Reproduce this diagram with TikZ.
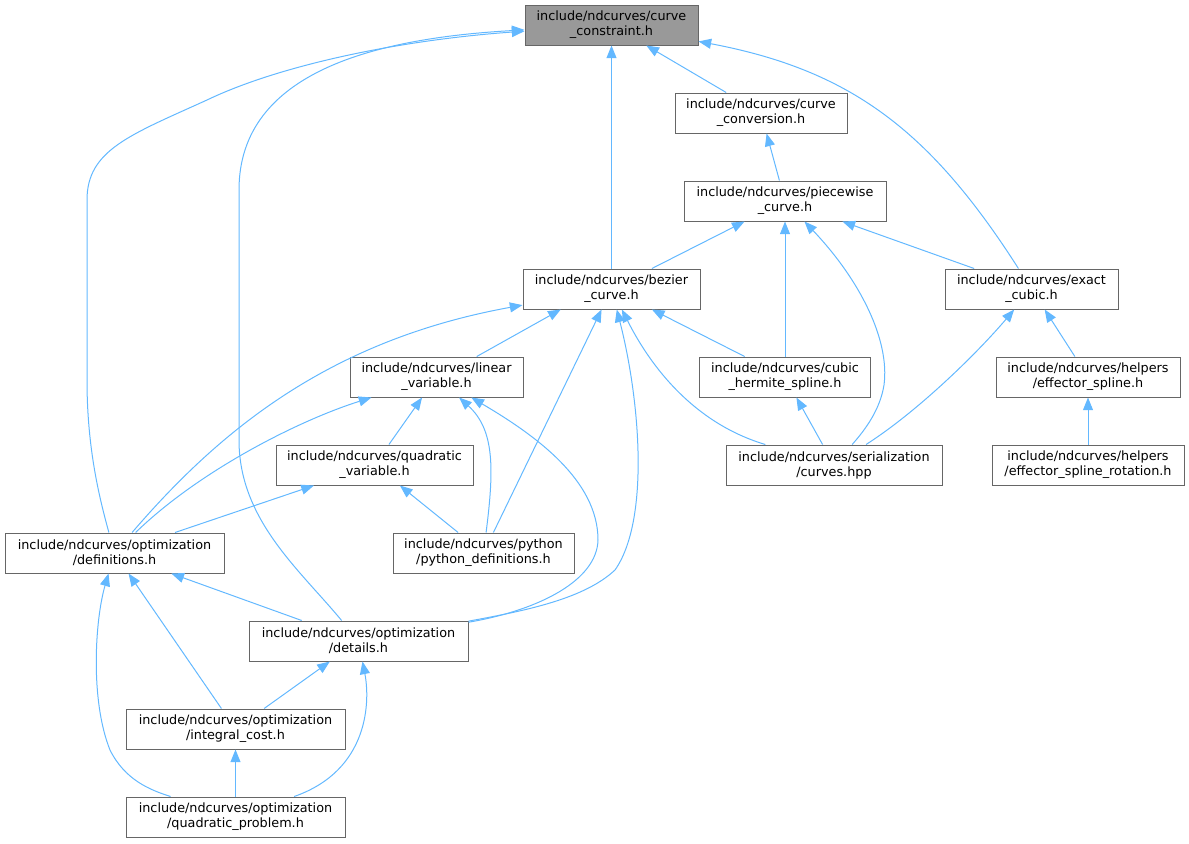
\documentclass[tikz,border=0pt]{standalone}
\usepackage{fontspec}
\setmainfont{DejaVu Sans}
\usetikzlibrary{arrows.meta}
\definecolor{edgeblue}{HTML}{63B8FF}
\definecolor{boxline}{HTML}{666666}
\definecolor{mainfill}{HTML}{999999}
\begin{document}
\begin{tikzpicture}[x=0.75pt,y=-0.75pt,
  box/.style={draw=boxline, line width=0.75pt, fill=white, rectangle, inner sep=0pt,
    minimum height=30pt, align=center, font=\fontsize{9.6}{11.25}\selectfont},
  w/.style={minimum width=#1*0.75pt},
  edge/.style={draw=edgeblue, line width=0.75pt, {Triangle[length=9.5pt,width=7.5pt]}-}]
\useasboundingbox (0,0) rectangle (1189,843);
% nodes
\node[box,fill=mainfill,w=173] (cc) at (611.5,25) {include/ndcurves/curve\\\_constraint.h};
\node[box,w=172] (conv) at (761,113) {include/ndcurves/curve\\\_conversion.h};
\node[box,w=202] (pw) at (785,201) {include/ndcurves/piecewise\\\_curve.h};
\node[box,w=177] (bez) at (611.5,289) {include/ndcurves/bezier\\\_curve.h};
\node[box,w=173] (exact) at (1031.5,289) {include/ndcurves/exact\\\_cubic.h};
\node[box,w=173] (lin) at (436.5,377) {include/ndcurves/linear\\\_variable.h};
\node[box,w=171] (herm) at (785,377) {include/ndcurves/cubic\\\_hermite\_spline.h};
\node[box,w=184] (eff) at (1088,377) {include/ndcurves/helpers\\/effector\_spline.h};
\node[box,w=197] (quad) at (374.5,465) {include/ndcurves/quadratic\\\_variable.h};
\node[box,w=216] (ser) at (834,465) {include/ndcurves/serialization\\/curves.hpp};
\node[box,w=192] (effrot) at (1088,465) {include/ndcurves/helpers\\/effector\_spline\_rotation.h};
\node[box,w=219] (defs) at (114.5,553) {include/ndcurves/optimization\\/definitions.h};
\node[box,w=181] (py) at (483.5,553) {include/ndcurves/python\\/python\_definitions.h};
\node[box,w=219] (det) at (358.5,641) {include/ndcurves/optimization\\/details.h};
\node[box,w=219] (integ) at (235.5,729) {include/ndcurves/optimization\\/integral\_cost.h};
\node[box,w=219] (qp) at (235.5,817) {include/ndcurves/optimization\\/quadratic\_problem.h};
% edges from curve_constraint
\draw[edge] (cc) -- (conv);
\draw[edge] (cc) -- (bez);
\draw[edge] (cc) .. controls (850,70) and (930,130) .. (exact);
\draw[edge] (cc) .. controls (400,40) and (280,65) .. (207,100)
  .. controls (130,135) and (87,150) .. (87,200) -- (87,380)
  .. controls (87,450) and (100,500) .. (defs);
\draw[edge] (cc) .. controls (380,38) and (239,70) .. (239,190) -- (239,440)
  .. controls (239,520) and (300,570) .. (det);
% curve_conversion / piecewise
\draw[edge] (conv) -- (pw);
\draw[edge] (pw) -- (bez);
\draw[edge] (pw) -- (herm);
\draw[edge] (pw) .. controls (860,280) and (890,340) .. (884,385)
  .. controls (880,410) and (865,430) .. (ser);
\draw[edge] (pw) -- (exact);
% bezier
\draw[edge] (bez) .. controls (330,340) and (220,430) .. (defs);
\draw[edge] (bez.202) -- (lin.27);
\draw[edge] (bez) -- (py);
\draw[edge] (bez) .. controls (640,400) and (650,520) .. (615,570)
  .. controls (585,598) and (530,610) .. (det);
\draw[edge] (bez) .. controls (655,375) and (700,425) .. (ser);
\draw[edge] (bez) -- (herm);
% exact cubic
\draw[edge] (exact) .. controls (980,350) and (920,410) .. (ser);
\draw[edge] (exact) -- (eff);
\draw[edge] (eff) -- (effrot);
% linear variable
\draw[edge] (lin) .. controls (300,420) and (200,470) .. (defs);
\draw[edge] (lin) -- (quad);
\draw[edge] (lin) .. controls (495,430) and (494,470) .. (py);
\draw[edge] (lin) .. controls (535,435) and (598,480) .. (598,540)
  .. controls (597,580) and (540,610) .. (det);
% quadratic variable
\draw[edge] (quad) -- (defs);
\draw[edge] (quad) -- (py);
% hermite
\draw[edge] (herm) -- (ser);
% definitions
\draw[edge] (defs) -- (det);
\draw[edge] (defs) -- (integ);
\draw[edge] (defs) .. controls (95,620) and (90,700) .. (110,750)
  .. controls (125,780) and (150,790) .. (qp);
% details
\draw[edge] (det) -- (integ);
\draw[edge] (det) .. controls (370,700) and (370,770) .. (qp);
% integral cost
\draw[edge] (integ) -- (qp);
\end{tikzpicture}
\end{document}
